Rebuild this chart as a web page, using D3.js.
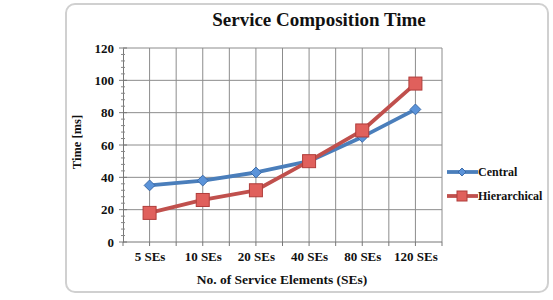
<!DOCTYPE html>
<html><head><meta charset="utf-8">
<script src="https://cdn.jsdelivr.net/npm/d3@7"></script>
<style>body{margin:0;background:#fff}svg{display:block}text{font-family:"Liberation Serif","Times New Roman",serif;font-weight:bold;fill:#111}</style>
</head><body><svg id="c" width="553" height="300"></svg>
<script>
const categories = ["5 SEs","10 SEs","20 SEs","40 SEs","80 SEs","120 SEs"];
const central = [35,38,43,50,65,82];
const hierarchical = [18,26,32,50,69,98];
const yTicks = [0,20,40,60,80,100,120];
const seriesNames = ["Central","Hierarchical"];

const svg = d3.select("#c");
const L=123,R=442,T=48,B=242;
svg.append("rect").attr("x",66).attr("y",4).attr("width",482).attr("height",288).attr("rx",9)
  .attr("fill","#fff").attr("stroke","#d0d0d0").attr("stroke-width",2);

const x = d3.scalePoint().domain(categories).range([L,R]).padding(0.5);
const y = d3.scaleLinear().domain([0,120]).range([B,T]);
const step = x.step();

const g = svg.append("g");
const vx = d3.range(0, categories.length*2+1).map(i => L + i*step/2);
g.selectAll(".vg").data(vx.slice(1)).join("line").attr("x1",d=>d).attr("x2",d=>d).attr("y1",T).attr("y2",B)
  .attr("stroke","#8c8c8c").attr("stroke-width",1);
g.selectAll(".hg").data(yTicks.slice(1)).join("line").attr("x1",L).attr("x2",R).attr("y1",d=>y(d)).attr("y2",d=>y(d))
  .attr("stroke","#8c8c8c").attr("stroke-width",1);

const serif = "'Liberation Serif', 'Times New Roman', serif";
const yAxis = d3.axisLeft(y).tickValues(yTicks).tickSize(0).tickPadding(9);
const ya = svg.append("g").attr("transform",`translate(${L},0)`).call(yAxis).attr("font-family",serif);
ya.select(".domain").attr("stroke","#777");
ya.selectAll("text").style("font-size","13px").style("font-family",serif).style("font-weight","bold").attr("fill","#111");
svg.selectAll(".ymaj").data(yTicks).join("line").attr("x1",L-4).attr("x2",L+4).attr("y1",d=>y(d)).attr("y2",d=>y(d)).attr("stroke","#777");
svg.selectAll(".ymin").data(d3.range(0,121,4).filter(v=>v%20)).join("line").attr("x1",L-2).attr("x2",L+2).attr("y1",d=>y(d)).attr("y2",d=>y(d)).attr("stroke","#888");

const xAxis = d3.axisBottom(x).tickSize(0).tickPadding(10);
const xa = svg.append("g").attr("transform",`translate(0,${B})`).call(xAxis).attr("font-family",serif);
xa.select(".domain").remove();
svg.append("line").attr("x1",L).attr("x2",R).attr("y1",B).attr("y2",B).attr("stroke","#777");
svg.selectAll(".xt").data(vx).join("line").attr("x1",d=>d).attr("x2",d=>d).attr("y1",B).attr("y2",B+4).attr("stroke","#777");
xa.selectAll("text").style("font-size","13px").style("font-family",serif).style("font-weight","bold").attr("fill","#111");

svg.append("text").attr("x",319).attr("y",26).attr("text-anchor","middle").style("font-size","19px").text("Service Composition Time");
svg.append("text").attr("x",282).attr("y",284).attr("text-anchor","middle").style("font-size","13.5px").text("No. of Service Elements (SEs)");
svg.append("text").attr("transform","translate(81,142) rotate(-90)").attr("text-anchor","middle").style("font-size","12.5px").text("Time [ms]");

const line = d3.line().x((d,i)=>x(categories[i])).y(d=>y(d));
const colors = ["#4a7ebb","#c0504d"];
const fills = ["#5b93d9","#e0605c"];
[central, hierarchical].forEach((s,k)=>{
  svg.append("path").datum(s).attr("d",line).attr("fill","none").attr("stroke",colors[k]).attr("stroke-width",3.8).attr("stroke-linejoin","round");
});
svg.selectAll(".dm").data(central).join("path")
  .attr("d",d3.symbol(d3.symbolDiamond2,75)).attr("transform",(d,i)=>`translate(${x(categories[i])},${y(d)})`)
  .attr("fill",fills[0]).attr("stroke","#3a6aa8").attr("stroke-width",1);
svg.selectAll(".sq").data(hierarchical).join("rect")
  .attr("x",(d,i)=>x(categories[i])-6.5).attr("y",d=>y(d)-6.5).attr("width",13).attr("height",13)
  .attr("fill",fills[1]).attr("stroke","#b03c3a").attr("stroke-width",1);

const lg = svg.append("g");
seriesNames.forEach((n,k)=>{
  const ly = 172 + k*24;
  lg.append("line").attr("x1",447).attr("x2",478).attr("y1",ly).attr("y2",ly).attr("stroke",colors[k]).attr("stroke-width",3.8);
  if(k===0) lg.append("path").attr("d",d3.symbol(d3.symbolDiamond2,40)).attr("transform",`translate(462,${ly})`).attr("fill",fills[0]).attr("stroke","#3a6aa8");
  else lg.append("rect").attr("x",457).attr("y",ly-5).attr("width",10).attr("height",10).attr("fill",fills[1]).attr("stroke","#b03c3a");
  lg.append("text").attr("x",478).attr("y",ly+4).style("font-size","12px").text(n);
});
</script></body></html>
